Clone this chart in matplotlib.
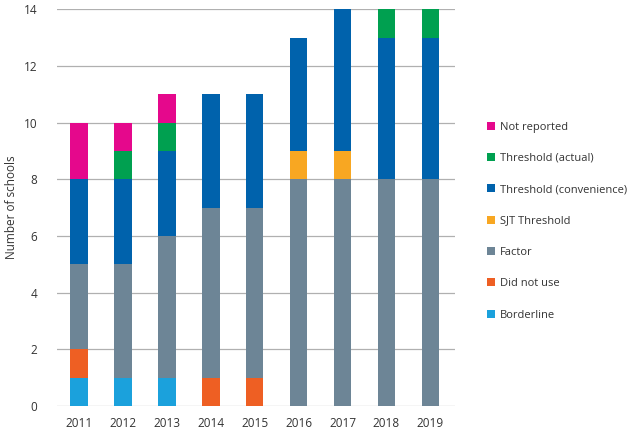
import matplotlib
matplotlib.use('Agg')
import matplotlib.pyplot as plt
import numpy as np

plt.rcParams['font.family'] = ['Open Sans', 'DejaVu Sans']

years = ['2011', '2012', '2013', '2014', '2015', '2016', '2017', '2018', '2019']

# stacked from bottom to top
borderline = [1, 1, 1, 0, 0, 0, 0, 0, 0]
did_not_use = [1, 0, 0, 1, 1, 0, 0, 0, 0]
factor = [3, 4, 5, 6, 6, 8, 8, 8, 8]
sjt_threshold = [0, 0, 0, 0, 0, 1, 1, 0, 0]
threshold_conv = [3, 3, 3, 4, 4, 4, 5, 5, 5]
threshold_actual = [0, 1, 1, 0, 0, 0, 0, 1, 1]
not_reported = [2, 1, 1, 0, 0, 0, 0, 0, 0]

series = [
    ('Borderline', borderline, '#1BA1DC'),
    ('Did not use', did_not_use, '#EE5F23'),
    ('Factor', factor, '#6D8596'),
    ('SJT Threshold', sjt_threshold, '#F8A722'),
    ('Threshold (convenience)', threshold_conv, '#0062AC'),
    ('Threshold (actual)', threshold_actual, '#00A050'),
    ('Not reported', not_reported, '#E5088C'),
]

fig = plt.figure(figsize=(6.29, 4.36), dpi=100)
ax = fig.add_axes([0.0906, 0.0688, 0.632, 0.91])

x = np.arange(len(years))
bottom = np.zeros(len(years))
handles = []
for name, vals, col in series:
    b = ax.bar(x, vals, 0.4, bottom=bottom, color=col, label=name, zorder=3)
    handles.append(b)
    bottom += np.array(vals)

ax.set_xlim(-0.5, 8.55)
ax.set_ylim(0, 14)
ax.set_yticks(range(0, 15, 2))
ax.set_xticks(x)
ax.set_xticklabels(years)
ax.yaxis.grid(True, color='#b0b0b0', linewidth=0.9, zorder=0)
for s in ax.spines.values():
    s.set_visible(False)
ax.tick_params(length=0, labelsize=8.5, colors='#333333', pad=8)
ax.tick_params(axis='y', pad=14)
ax.set_ylabel('Number of schools', fontsize=8.5, color='#333333', labelpad=4)

leg = ax.legend(handles[::-1], [s[0] for s in series][::-1],
                loc='upper left', bbox_to_anchor=(1.07, 0.728), frameon=False,
                fontsize=8, handlelength=0.75, handleheight=0.75,
                handletextpad=0.4, labelspacing=1.83, borderaxespad=0)
for t in leg.get_texts():
    t.set_color('#333333')

plt.savefig('out.png', dpi=100)
